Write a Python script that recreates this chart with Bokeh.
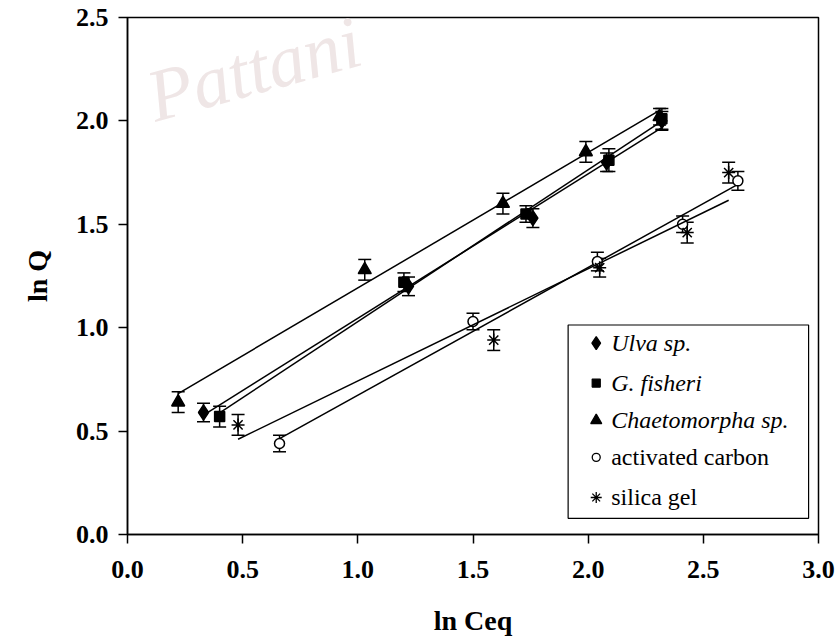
import numpy as np
from bokeh.plotting import figure
from bokeh.models import (Range1d, Whisker, TeeHead, ColumnDataSource, BoxAnnotation,
                          Label, FixedTicker, PrintfTickFormatter)
from bokeh.core.properties import value
from bokeh.embed import file_html
from bokeh.resources import INLINE

# Freundlich plots: ln Ceq (x) against ln Q (y) for each sorbent
ulva_x = [0.33, 1.22, 1.76, 2.08, 2.32]
ulva_y = [0.59, 1.20, 1.53, 1.80, 2.00]
ulva_err = [0.045, 0.045, 0.045, 0.045, 0.045]

gfish_x = [0.40, 1.20, 1.73, 2.09, 2.32]
gfish_y = [0.57, 1.22, 1.55, 1.81, 2.01]
gfish_err = [0.05, 0.045, 0.04, 0.055, 0.05]

chaeto_x = [0.22, 1.03, 1.63, 1.99, 2.31]
chaeto_y = [0.64, 1.28, 1.60, 1.85, 2.02]
chaeto_err = [0.05, 0.05, 0.05, 0.05, 0.04]

carbon_x = [0.66, 1.50, 2.04, 2.41, 2.65]
carbon_y = [0.44, 1.03, 1.32, 1.50, 1.71]
carbon_err = [0.04, 0.04, 0.045, 0.04, 0.045]

silica_x = [0.48, 1.59, 2.05, 2.43, 2.61]
silica_y = [0.53, 0.94, 1.29, 1.46, 1.75]
silica_err = [0.05, 0.05, 0.045, 0.05, 0.05]

x_ticks = [0.0, 0.5, 1.0, 1.5, 2.0, 2.5, 3.0]
y_ticks = [0.0, 0.5, 1.0, 1.5, 2.0, 2.5]

series = [
    dict(name="Ulva sp.", italic=True, x=ulva_x, y=ulva_y, err=ulva_err,
         marker="diamond", size=15, fill="black"),
    dict(name="G. fisheri", italic=True, x=gfish_x, y=gfish_y, err=gfish_err,
         marker="square", size=10, fill="black"),
    dict(name="Chaetomorpha sp.", italic=True, x=chaeto_x, y=chaeto_y, err=chaeto_err,
         marker="triangle", size=13, fill="black"),
    dict(name="activated carbon", italic=False, x=carbon_x, y=carbon_y, err=carbon_err,
         marker="circle", size=10, fill="white"),
    dict(name="silica gel", italic=False, x=silica_x, y=silica_y, err=silica_err,
         marker="asterisk", size=13, fill="black"),
]

SERIF = "Liberation Serif"

p = figure(width=839, height=641, x_range=Range1d(0, 3), y_range=Range1d(0, 2.5),
           output_backend="svg", toolbar_location=None,
           min_border_left=127, min_border_right=21, min_border_top=17, min_border_bottom=107)
p.xgrid.visible = False
p.ygrid.visible = False
p.outline_line_color = "black"
p.outline_line_width = 1.5
p.background_fill_color = "white"
p.border_fill_color = "white"

# faint watermark behind the data
p.add_layout(Label(x=0.14, y=1.92, text="Pattani", angle=0.27,
                   text_font=SERIF, text_font_style="italic",
                   text_font_size="74px", text_color="#efe6e6", level="underlay"))

# legend frame, drawn beneath everything else
p.add_layout(BoxAnnotation(left=1.913, right=2.957, bottom=0.078, top=1.013,
                           fill_color="white", fill_alpha=1.0,
                           line_color="black", line_alpha=1.0, line_width=1.2,
                           level="underlay"))

for s in series:
    xs = np.array(s["x"])
    ys = np.array(s["y"])
    # least-squares trend line over the measured range
    k, b = np.polyfit(xs, ys, 1)
    lx = np.array([xs.min(), xs.max()])
    p.line(lx, k * lx + b, line_color="black", line_width=1.5)

    src = ColumnDataSource(dict(x=xs, upper=ys + np.array(s["err"]), lower=ys - np.array(s["err"])))
    p.add_layout(Whisker(source=src, base="x", upper="upper", lower="lower",
                         dimension="height", line_color="black", line_width=1.5,
                         upper_head=TeeHead(size=13, line_width=1.5, line_color="black"),
                         lower_head=TeeHead(size=13, line_width=1.5, line_color="black")))
    p.scatter(xs, ys, marker=s["marker"], size=s["size"], fill_color=s["fill"],
              line_color="black", line_width=1.5)

# legend entries with mixed italic / upright labels
leg_y = [0.925, 0.732, 0.552, 0.373, 0.179]
for s, ly in zip(series, leg_y):
    p.scatter([2.035], [ly], marker=s["marker"], size=s["size"] - 2, fill_color=s["fill"],
              line_color="black", line_width=1.3)
    p.text([2.10], [ly], text=[s["name"]], text_font=value(SERIF),
           text_font_style="italic" if s["italic"] else "normal",
           text_font_size="24px", text_color="black", text_baseline="middle",
           text_align="left")

for ax, ticks in ((p.xaxis[0], x_ticks), (p.yaxis[0], y_ticks)):
    ax.ticker = FixedTicker(ticks=ticks)
    ax.formatter = PrintfTickFormatter(format="%.1f")
    ax.axis_line_width = 1.5
    ax.major_tick_line_width = 1.5
    ax.major_tick_out = 9
    ax.major_tick_in = 0
    ax.minor_tick_line_color = None
    ax.major_label_text_font = SERIF
    ax.major_label_text_font_style = "bold"
    ax.major_label_text_font_size = "26px"
    ax.major_label_text_color = "black"
    ax.axis_label_text_font = SERIF
    ax.axis_label_text_font_style = "bold"
    ax.axis_label_text_font_size = "28px"
    ax.axis_label_text_color = "black"

p.xaxis.axis_label = "ln Ceq"
p.yaxis.axis_label = "ln Q"
p.xaxis.major_label_standoff = 17
p.yaxis.major_label_standoff = 10
p.xaxis.axis_label_standoff = 24
p.yaxis.axis_label_standoff = 20

open("out.html", "w").write(file_html(p, INLINE))
